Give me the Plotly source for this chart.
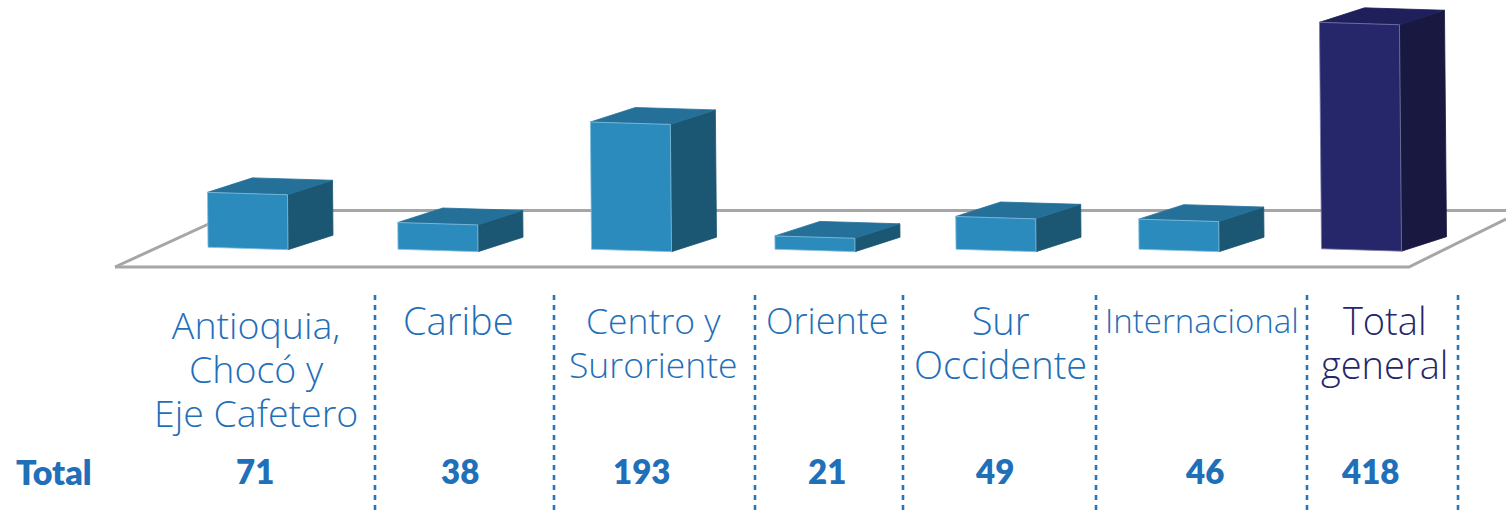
import plotly.graph_objects as go

# --- data ---
categories = [["Antioquia,", "Chocó y", "Eje Cafetero"], ["Caribe"], ["Centro y", "Suroriente"], ["Oriente"],
              ["Sur", "Occidente"], ["Internacional"], ["Total", "general"]]
totals = [71, 38, 193, 21, 49, 46, 418]
# bar heights as drawn in the picture (axis units; the last bar is visibly shortened)
drawn_heights = [82, 40, 190, 20, 49, 45, 338]
row_label = "Total"

# --- geometry / style ---
W, H = 1506, 510
PX_PER_UNIT = 0.67
BASE_PX = 249.3
bar_left = [208, 398, 591.5, 775, 956, 1139, 1321.5]
bar_lift_px = [2, 0, 0, 0, 0, 0, 0.5]
bar_width = 80
label_x = [256, 458, 653, 827, 1000, 1202, 1384]
label_y = [324, 320, 320, 320, 320, 320, 320]
label_size = [37.5, 38, 35.5, 36, 38, 33, 38]
LINE_STEP = 44
value_x = [255, 460, 641, 827, 994, 1204, 1370]
sep_x = [375, 554, 755, 903, 1096, 1307, 1458]
LABEL_FONT = "Open Sans"
VALUE_FONT = "Lato"
BLUE = "#1f6fb9"
NAVY = "#26266a"
palette = {"front": "#2b8bbd", "top": "#247098", "side": "#1b5673", "edge": "#86c0df"}
palette_total = {"front": "#26266a", "top": "#1f1f5c", "side": "#181840", "edge": "#7a7aa8"}
DX, DY = 45, 14.5   # depth offset in px
TILT = 2.4          # front face slope in px


def yv(px):
    """pixel offset above the base line -> axis units"""
    return px / PX_PER_UNIT


fig = go.Figure()

# floor
floor_x = [115, 1409, 1506, None, 238, 1506]
floor_y = [yv(BASE_PX - 267), yv(BASE_PX - 267), yv(BASE_PX - 219), None, yv(BASE_PX - 210.5), yv(BASE_PX - 210.5)]
floor_left_x = [115, 238]
floor_left_y = [yv(BASE_PX - 267), yv(BASE_PX - 210.5)]
for xs, ys in ((floor_x, floor_y), (floor_left_x, floor_left_y)):
    fig.add_trace(go.Scatter(x=xs, y=ys, mode="lines", line=dict(color="#a6a6a6", width=3),
                             hoverinfo="skip", showlegend=False))


def face(xs, ys, fill, edge=None):
    fig.add_trace(go.Scatter(x=xs + xs[:1], y=ys + ys[:1], mode="lines", fill="toself", fillcolor=fill,
                             line=dict(color=edge or fill, width=0.8),
                             hoverinfo="skip", showlegend=False))


for i, h in enumerate(drawn_heights):
    c = palette_total if i == len(drawn_heights) - 1 else palette
    L = bar_left[i]
    R = L + bar_width
    lean = h * PX_PER_UNIT * 0.009
    t = yv(TILT)
    d = yv(DY)
    b = yv(bar_lift_px[i])
    # side
    face([R, R + DX, R + DX - lean, R - lean],
         [b - t, b + d - t, b + h + d - t, b + h - t], c["side"])
    # top
    face([L - lean, L + DX - lean, R + DX - lean, R - lean],
         [b + h, b + h + d, b + h + d - t, b + h - t], c["top"])
    # front
    face([L, R, R - lean, L - lean], [b, b - t, b + h - t, b + h], c["front"], c["edge"])

# separators
for x in sep_x:
    fig.add_shape(type="line", xref="x", yref="paper", x0=x, x1=x, y0=0, y1=1 - 292 / H,
                  line=dict(color="#2a74b8", width=2.6, dash="5px,5px"))

# labels: the annotation font sets the 44 px line step, the spans set the glyph size
for i, lines in enumerate(categories):
    col = NAVY if i == len(categories) - 1 else BLUE
    text = "<br>".join(f'<span style="font-size:{label_size[i]}px">{line}</span>' for line in lines)
    centre = label_y[i] + (len(lines) - 1) * LINE_STEP / 2
    fig.add_annotation(x=label_x[i], xref="x", y=1 - centre / H, yref="paper",
                       text=text, showarrow=False, xanchor="center", yanchor="middle", align="center",
                       font=dict(family=LABEL_FONT, size=LINE_STEP / 1.3, color=col, weight=300))
    fig.add_annotation(x=value_x[i], xref="x", y=1 - 471 / H, yref="paper", text=str(totals[i]),
                       showarrow=False, xanchor="center", yanchor="middle",
                       font=dict(family=VALUE_FONT, size=33, color=BLUE, weight=800))
fig.add_annotation(x=54, xref="x", y=1 - 471 / H, yref="paper", text=row_label, showarrow=False,
                   xanchor="center", yanchor="middle",
                   font=dict(family=VALUE_FONT, size=34, color=BLUE, weight=800))

fig.update_layout(
    width=W, height=H, margin=dict(l=0, r=0, t=0, b=0),
    paper_bgcolor="white", plot_bgcolor="white", showlegend=False,
    xaxis=dict(range=[0, W], visible=False, fixedrange=True),
    yaxis=dict(range=[yv(BASE_PX - H), yv(BASE_PX)], visible=False, fixedrange=True),
)
fig.write_html("out.html", config={"displayModeBar": False},
               post_script="document.documentElement.style.margin='0';document.body.style.margin='0';document.body.style.overflow='hidden';")
